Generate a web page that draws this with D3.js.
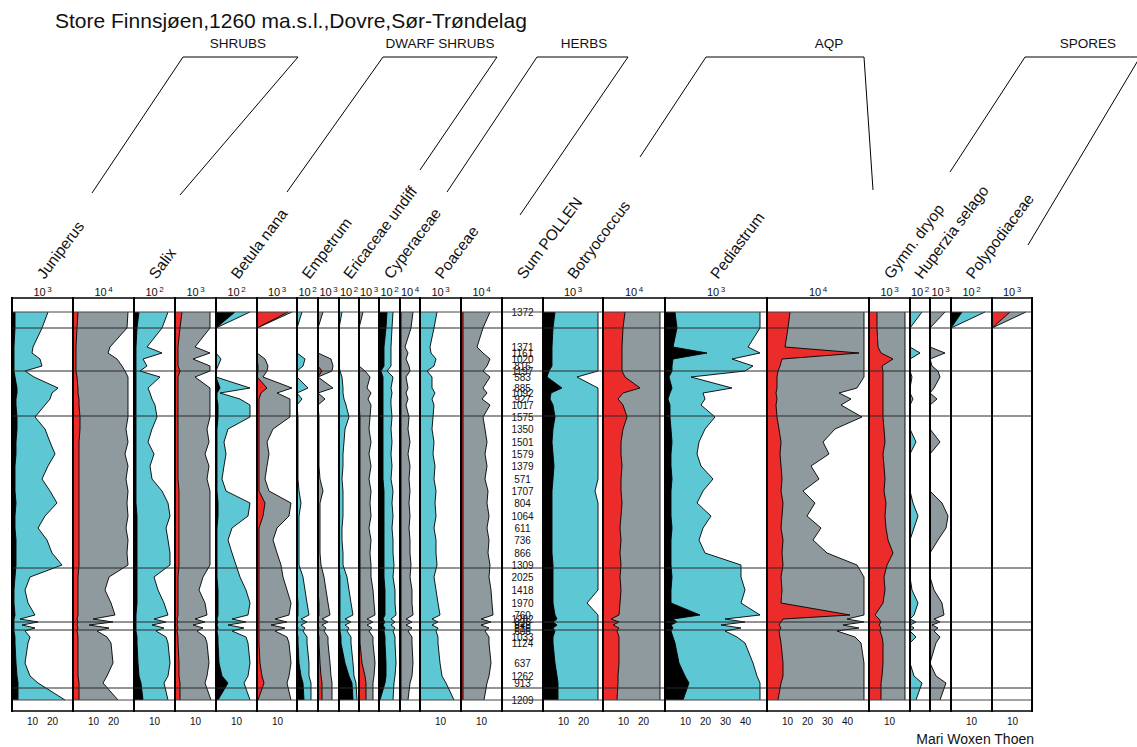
<!DOCTYPE html>
<html>
<head>
<meta charset="utf-8">
<script src="https://cdn.jsdelivr.net/npm/d3@7"></script>
<style>
  body { margin: 0; background: #fff; }
  svg { display: block; }
  text { font-family: "Liberation Sans", Arial, Helvetica, sans-serif; fill: #111; }
</style>
</head>
<body>
<svg id="chart" width="1137" height="747"></svg>
<script>
// ---- sample depths (cm) and pollen sums ----
const depths = [100,108,117.5,120.5,123.5, 127,129.5,132.5,138,140.5, 143.5,146.5,152.5,158.5,165,
  171,177,183.5,189.5,195.5, 202,208,214,220.5,226.5, 232.5,239,245.5,251.5,253.5,
  255,256.5,258,259.5,262.5, 265.5,275.5,282,285.5,294];
const sumPollen = [1372,null,1371,1161,1020, 816,1197,583,885,1092, 927,1017,1575,1350,1501,
  1579,1379,571,1707,804, 1064,611,736,866,1309, 2025,1418,1970,760,1282,
  896,848,816,606,1033, 1124,637,1262,913,1209];
const zoneDepths = [108,129.5,152,228,255,259,288];

// ---- taxa, groups and scale exponents ----
const taxa = ["Juniperus","Salix","Betula nana","Empetrum","Ericaceae undiff","Cyperaceae","Poaceae",
  "Sum POLLEN","Botryococcus","Pediastrum","Gymn. dryop","Huperzia selago","Polypodiaceae"];
const groupNames = ["SHRUBS","DWARF SHRUBS","HERBS","AQP","SPORES"];
const scaleExponents = [3,4, 2,3, 2,3, 2,3, 2,3, 2,4, 3,4, null, 3,4, 3,4, 3, 2,3, 2,3];

// ---- curves: dark = lower curve, light = exaggerated curve ----
const junA_dark  = [1.5,1.5,1,1,1, 1,1,1.5,2.5,2.5, 2,2,2.5,2.5,2, 2,1.5,1.5,1.5,2, 1.5,1.5,2,2,2, 1.5,1,1,1.5,1, 1,1,1,1,1.5, 1.5,2,2.5,3,3];
const junA_light = [18,15,10.5,10,14, 15,6.5,11,23,20, 19,16.5,11.5,16.5,19, 21.5,18,15,19,22.5, 16.5,13,17.5,20,25, 9,6.5,8,11.5,4, 13,5,11.5,6.5,9, 8,6.5,9,13,26.5];
const junB_dark  = [2.5,2,1.5,1.5,1.5, 1.5,1.5,2,2.5,2.5, 3,3,3.5,3.5,3, 3,3,3,3,3, 3,3,3,3,3, 2.5,2.5,2.5,2.5,2, 2.5,2,2.5,2,2.5, 2.5,2.5,2.5,3,3];
const junB_light = [27.5,27,18.5,17.5,22, 24.5,26,27.5,27.5,27.5, 27.5,27.5,27.5,26.5,27.5, 26,27.5,26.5,27.5,27, 27.5,26.5,27.5,27,27.5, 18,16,19,21,10, 20,8,18,12,17, 19,20,17,15,22.5];
const salA_dark  = [2.5,1.5,1,1,1, 1,1,1,1,1, 1,1,1,1,1, 1,1,1,1,1, 1.5,1.5,1.5,1.5,1.5, 1.5,1.5,1.5,1,1, 1,1,1,1,1.5, 1.5,2,2.5,3.5,4.5];
const salA_light = [17,14,6.5,14,4.5, 6.5,3,13,7,8, 9,10.5,11.5,9,7, 10,8,9,14,17, 18,16,17,18,18, 10,12,15,17,10, 16,9,15,11,16, 17,18,17,15,17];
const salB_dark  = [3.5,2.5,1.5,1.5,1.5, 1.5,2.5,1.5,1.5,1.5, 1.5,1.5,1.5,1.5,1.5, 1.5,1.5,1.5,2,2, 2,2,2,2,2, 1.5,1.5,1.5,1.5,1, 1.5,1,1.5,1,1.5, 1.5,2,2,2.5,2.5];
const salB_light = [17.5,17.5,10,17.5,9, 17.5,17.5,10,17.5,17.5, 17.5,17.5,17.5,16,17, 15,17,16,17.5,17.5, 17.5,17.5,17.5,17.5,17.5, 14,12,15,16,10, 15,9,14,11,15, 16,17,16,15,18];
const betA_dark  = [9.5,0,0,0,0, 0,0,0,2,0.5, 0.5,1,1,0.5,0.5, 0.5,0.5,0.5,0.5,1, 1,0.5,0.5,0.5,0.5, 0.5,1,1,1,0.5, 1,0.5,1,0.5,1, 1,1.5,3,6,1];
const betA_light = [17,0,0,0,2.5, 1,0,0,17,2, 12,17,17,6,4, 5,4,3,5,17, 16,8,6,8,10, 12,15,17,16,8, 15,6,14,8,15, 16,17,16,14,17];
const betB_dark  = [15.5,0,0,0,0, 0.5,0.5,0,5,2, 1,1,1,1,1, 1,1,1,1,4, 3,1,1,1,1, 1,1,1,1,1, 1,1,1,1,1, 1,1.5,2.5,3.5,0.5];
const betB_light = [17.5,0,0,0,4, 5.5,5,3,17.5,10, 16.5,16.5,16.5,8,5, 6,5,4,6,17, 16,10,8,10,12, 13,15,17,16,9, 15,7,14,9,15, 16,17,16,15,17];
const empA_dark  = [0,0,0,0,0, 0,0,0,0,0, 0,0,0,0,0, 0,0,0,0,0, 0,0,0,0,0, 0,0,0.5,0.5,0, 0.5,0,0.5,0,0.5, 0.5,1,2,3,3.5];
const empA_light = [2.5,0,0,0,4, 3,0,0,5.5,0, 2.5,0,0.5,0.5,0.5, 0.5,0.5,0.5,1,2, 1,1,1,1,1, 3,4,5,6,2, 5,2,4,3,5, 5,6,6,7,7];
const empB_dark  = [0,0,0,0,0, 0,2,0,0,0, 0,0,0,0,0, 0,0,0,0,0, 0,0,0,0,0, 0,0,0.5,0.5,0, 0.5,0,0.5,0,0.5, 0.5,1,1.5,2,2];
const empB_light = [2.5,0,0,0,6.5, 7.5,7,0,7.5,0, 3.5,0,0.5,0.5,0.5, 0.5,0.5,1,2.5,1, 1,1,1,1,1.5, 3,4,5,6,2, 5,2,4,3,5, 5,6,6.5,7,7];
const eriA_dark  = [0,0,0,0,0, 0,0,0,0,0, 0,0,0,0,0, 0,0,0,0,0, 0,0,0,0,0, 0.5,0.5,0.5,0.5,0.5, 0.5,0.5,0.5,0.5,1, 1,3,5,6.5,7];
const eriA_light = [1.5,0,0,0,0, 0,0.5,1.5,2,2, 2.5,3.5,5,3,2.5, 2,2,1.5,2,2, 2,1.5,1.5,2,2, 4,5,6,7,3, 6,3,5,4,6, 6,7,7.5,8.5,9];
const eriB_dark  = [0,0,0,0,0, 0,0,0,0,0, 0,0,0.5,0.5,0.5, 0.5,0.5,0.5,0.5,0.5, 0.5,0.5,0.5,0.5,0.5, 0.5,0.5,0.5,0.5,0.5, 0.5,0.5,0.5,0.5,0.5, 0.5,1.5,3,3.5,3.5];
const eriB_light = [2,0,0,0,0, 0,3,5.5,4,6, 4.5,6,5.5,5,6, 5,6,5,6,5.5, 6,5,6,5.5,6, 6,7,7.5,8,4, 7,4,6.5,5,7, 7,8,7.5,7,7];
const cypA_dark  = [4,3.5,2.5,2.5,2.5, 2.5,1,2,2,2, 2,2,2,2,2, 2,2,2,2.5,2.5, 2.5,2.5,2.5,2.5,2.5, 2.5,3,3,3,2, 3,2,3,2.5,3, 3,3.5,3.5,3,0.5];
const cypA_light = [7,6.5,6,6,6, 6,4,7,6,6.5, 6,6,6.5,6,6.5, 6,6.5,6,7,6.5, 7,6.5,7,7,7.5, 7,8,8,8.5,6, 8,6,8,7,8, 8,8.5,8,7.5,7];
const cypB_dark  = [0.5,0.5,0.5,0.5,0.5, 0.5,0.5,0.5,0.5,0.5, 0.5,0.5,0.5,0.5,0.5, 0.5,0.5,0.5,0.5,0.5, 0.5,0.5,0.5,0.5,0.5, 0.5,0.5,0.5,0.5,0.5, 0.5,0.5,0.5,0.5,0.5, 0.5,0.5,0.5,0.5,0.5];
const cypB_light = [6.5,5.5,2.5,4,3, 4.5,5,3,4,3, 4,3,4.5,4,5, 4,5,4.5,5,4.5, 5,4.5,5,5,5.5, 5,6,6,6.5,3, 6,3,6,4,6, 6,6.5,6,5,4];
const poaA_light = [8.5,7,5,5.5,8, 7,3.5,6,6,7.5, 6,7,6.5,6,7, 6.5,7.5,7,8,7.5, 8,7,8,8,8.5, 7,8,9,10,6, 9,6,9,8,9, 9,10,11,13,17];
const poaB_dark  = [1,1,1,1,1, 1,1,1,1,1, 1,1,1,1,1, 1,1,1,1,1, 1,1,1,1,1, 1,1,1,1,1, 1,1,1,1,1, 1,1,1,1,1];
const poaB_light = [14.5,11,8,11,14.5, 13,11,14.5,11,13, 10.5,14.5,11,12,13, 12,13,12,13.5,13, 14,13,14,13.5,14.5, 14,15,15.5,16,10, 15,10,14,12,14, 14,15,14,13,11.5];
const botA_dark  = [6,5,4.5,4.5,4.5, 4.5,3,2,9.5,4, 3.5,5,6,5,4.5, 5,5.5,5,4.5,4.5, 4.5,4.5,4.5,4.5,5, 5,5,5,6,7, 5,7,5,6,5, 5,6,7,7.5,7.5];
const botA_light = [27.5,27.5,27.5,27.5,27.5, 27.5,27.5,17,27.5,27.5, 27.5,27.5,27.5,27.5,27.5, 27.5,27.5,27.5,26,27.5, 27.5,27.5,27.5,27.5,27.5, 27.5,27.5,22,27.5,27.5, 27.5,27.5,27.5,27.5,27.5, 27.5,27.5,27.5,27.5,27.5];
const botB_dark  = [11,10,9.5,9.5,9.5, 9.5,9.5,11,18.5,10, 7.5,10,12,10,9, 9,9.5,9,9,9.5, 9,8.5,9,8.5,9, 8.5,9,8.5,8,4, 8,5,8,7,8, 8,8,7.5,7.5,7];
const botB_light = [28.5,28.5,28.5,28.5,28.5, 28.5,28.5,28.5,28.5,28.5, 28.5,28.5,28.5,28.5,28.5, 28.5,28.5,28.5,28.5,28.5, 28.5,28.5,28.5,28.5,28.5, 28.5,28.5,28.5,28.5,28.5, 28.5,28.5,28.5,28.5,28.5, 28.5,28.5,28.5,28.5,28.5];
const pedA_dark  = [5,6,4,21,4, 3.5,3.5,2,3.5,2.5, 1.5,2.5,2.5,3,3.5, 3,3,3.5,3,3, 3,3.5,3,3,3, 3.5,3,3,17.5,4, 6,3,4,3,4, 5,7,10,12,9];
const pedA_light = [47.5,47.5,41.5,47.5,33.5, 44,40,13,33.5,19, 20,18,25,20,17, 16,18,24,19,16, 23,19,17,20,38, 38,40,38,47.5,30, 40,28,38,30,36, 40,44,46,47.5,47.5];
const pedB_dark  = [11.5,10.5,9,46,7.5, 6.5,5.5,5,5,4.5, 5,4.5,5,6,7, 6.5,7,7.5,7,8, 7.5,7,8,7.5,8, 7,7.5,7,41.5,8, 7,6,7,6,6.5, 7,8,8,7,5.5];
const pedB_light = [48.5,48.5,48.5,48.5,48.5, 48.5,48.5,48.5,45,36, 42,37,47.5,34,28, 31,22,26,18,24, 20,27,23,30,45, 48.5,48.5,48.5,48.5,40, 48.5,38,46,35,44, 47,48.5,48.5,48.5,48.5];
const gymA_dark  = [4,4,4.5,6,12, 6.5,7,7,7,7, 7,7,7,7.5,8, 7,7.5,8,7.5,8.5, 8,8.5,9.5,12,9, 7.5,8,7,3,5, 6,5,6,5.5,6.5, 7,7,6.5,6,6];
const gymA_light = [18,18,18,18,18, 18,18,18,18,18, 18,18,18,18,18, 18,18,18,18,18, 18,18,18,18,18, 18,18,18,18,18, 18,18,18,18,18, 18,18,18,18,18];
const hupA_light = [6,0,0,5,0, 0,0,1,0,0, 1.5,0,0,0,3, 0,0,0,0,1.5, 4,2,0,0,0, 0,1,4,2,0, 3,0,2,0,3, 0,0,2,6,3];
const hupB_light = [7.5,0,0,7.5,0, 1,4,5,2,0, 3.5,0,0,0,5, 0,0,0,0,6, 9,8,4,0,0, 0,2,6,7,2, 5,1,4,2,5, 3,0,3,8,5];
const polA_dark  = [5.5,0,0,0,0, 0,0,0,0,0, 0,0,0,0,0, 0,0,0,0,0, 0,0,0,0,0, 0,0,0,0,0, 0,0,0,0,0, 0,0,0,0,0];
const polA_light = [17,0,0,0,0, 0,0,0,0,0, 0,0,0,0,0, 0,0,0,0,0, 0,0,0,0,0, 0,0,0,0,0, 0,0,0,0,0, 0,0,0,0,0];
const polB_dark  = [9,0,0,0,0, 0,0,0,0,0, 0,0,0,0,0, 0,0,0,0,0, 0,0,0,0,0, 0,0,0,0,0, 0,0,0,0,0, 0,0,0,0,0];
const polB_light = [17,0,0,0,0, 0,0,0,0,0, 0,0,0,0,0, 0,0,0,0,0, 0,0,0,0,0, 0,0,0,0,0, 0,0,0,0,0, 0,0,0,0,0];

// ---- panel table (built from the arrays above) ----
const panels = [
  {dark: junA_dark, light: junA_light, tone: "bc"},
  {dark: junB_dark, light: junB_light, tone: "rg"},
  {dark: salA_dark, light: salA_light, tone: "bc"},
  {dark: salB_dark, light: salB_light, tone: "rg"},
  {dark: betA_dark, light: betA_light, tone: "bc"},
  {dark: betB_dark, light: betB_light, tone: "rg"},
  {dark: empA_dark, light: empA_light, tone: "bc"},
  {dark: empB_dark, light: empB_light, tone: "rg"},
  {dark: eriA_dark, light: eriA_light, tone: "bc"},
  {dark: eriB_dark, light: eriB_light, tone: "rg"},
  {dark: cypA_dark, light: cypA_light, tone: "bc"},
  {dark: cypB_dark, light: cypB_light, tone: "rg"},
  {dark: null,      light: poaA_light, tone: "bc"},
  {dark: poaB_dark, light: poaB_light, tone: "rg"},
  {sum: true},
  {dark: botA_dark, light: botA_light, tone: "bc"},
  {dark: botB_dark, light: botB_light, tone: "rg"},
  {dark: pedA_dark, light: pedA_light, tone: "bc"},
  {dark: pedB_dark, light: pedB_light, tone: "rg"},
  {dark: gymA_dark, light: gymA_light, tone: "rg"},
  {dark: null,      light: hupA_light, tone: "bc"},
  {dark: null,      light: hupB_light, tone: "rg"},
  {dark: polA_dark, light: polA_light, tone: "bc"},
  {dark: polB_dark, light: polB_light, tone: "rg"}
];

// ---- layout ----
const panelEdges = [12,73,134,175,216,257,297,318,339,359,379,400,420,461,502,543,603,665,767,869,910,930,951,992,1032];
const taxonFirstPanel = [0,2,4,6,8,10,12,14,15,17,19,20,22];
const groupLayout = [
  {tx: 238,  line: [[92,193],[183,57],[298,57],[180,195]]},
  {tx: 440,  line: [[287,192],[383,57],[497,57],[420,170]]},
  {tx: 584,  line: [[447,192],[537,57],[628,57],[520,215]]},
  {tx: 829,  line: [[640,157],[706,57],[864,57],[873,190]]},
  {tx: 1088, line: [[950,172],[1025,57],[1143,57]]}
];
const extraLeader = [[1143,52],[1028,245]];
const tones = {
  bc: {dark: "#000000", light: "#5ec7d4"},
  rg: {dark: "#ec2b2b", light: "#8e9a9d"}
};
const yTop = 312, yBot = 700, frameTop = 298, frameBot = 711;
const xLeft = panelEdges[0], xRight = panelEdges[panelEdges.length - 1];

const svg = d3.select("#chart");
const y = d3.scaleLinear().domain([d3.min(depths), d3.max(depths)]).range([yTop, yBot]);

// title
svg.append("text").attr("x", 55).attr("y", 28).attr("font-size", 21)
  .text("Store Finnsjøen,1260 ma.s.l.,Dovre,Sør-Trøndelag");

// curves
const gData = svg.append("g");
panels.forEach((p, i) => {
  const x0 = panelEdges[i], x1 = panelEdges[i + 1];
  if (p.sum) {
    gData.selectAll(null).data(depths.map((d, j) => ({d, s: sumPollen[j]})).filter(r => r.s !== null))
      .join("text")
      .attr("x", (x0 + x1) / 2).attr("y", r => y(r.d) + 3.6)
      .attr("text-anchor", "middle").attr("font-size", 10)
      .text(r => r.s);
    return;
  }
  const xs = d3.scaleLinear().domain([0, (x1 - x0) / 2]).range([x0, x1]);
  const rows = depths.map((d, j) => ({d, light: p.light[j], dark: p.dark ? p.dark[j] : 0}));
  const area = key => d3.area().x0(x0).x1(r => xs(r[key])).y(r => y(r.d));
  const edge = key => d3.line().x(r => xs(r[key])).y(r => y(r.d));
  const c = tones[p.tone];
  gData.append("path").attr("d", area("light")(rows)).attr("fill", c.light);
  gData.append("path").attr("d", edge("light")(rows)).attr("fill", "none")
    .attr("stroke", "#000").attr("stroke-width", 0.9);
  if (p.dark) {
    gData.append("path").attr("d", area("dark")(rows)).attr("fill", c.dark);
    gData.append("path").attr("d", edge("dark")(rows)).attr("fill", "none")
      .attr("stroke", "#000").attr("stroke-width", 0.9);
  }
  // bottom scale
  const maxV = (x1 - x0) / 2;
  const tv = d3.range(10, maxV - 3, 10);
  const axis = d3.axisBottom(xs).tickValues(tv).tickSize(0).tickPadding(7).tickFormat(d3.format("d"));
  const ga = svg.append("g").attr("transform", `translate(0,${frameBot})`).call(axis);
  ga.select(".domain").remove();
  ga.selectAll("text").attr("font-size", 10).attr("font-family", null).style("fill", "#111");
  // exponent label on top
  const e = scaleExponents[i];
  const t = svg.append("text").attr("x", (x0 + x1) / 2).attr("y", 296)
    .attr("text-anchor", "middle").attr("font-size", 11);
  t.append("tspan").text("10");
  t.append("tspan").attr("dx", 1.5).attr("dy", -4).attr("font-size", 8).text(e);
});

// zone lines
svg.append("g").selectAll("line").data(zoneDepths).join("line")
  .attr("x1", xLeft).attr("x2", xRight)
  .attr("y1", d => y(d)).attr("y2", d => y(d))
  .attr("stroke", "#2a2a2a").attr("stroke-width", 1);

// frame
const frame = svg.append("g");
[[frameTop, 1.6, "#000"], [yTop, 1, "#444"], [yBot, 1, "#444"], [frameBot, 1.6, "#000"]].forEach(([yy, w, col]) => {
  frame.append("line").attr("x1", xLeft).attr("x2", xRight).attr("y1", yy).attr("y2", yy)
    .attr("stroke", col).attr("stroke-width", w);
});
frame.selectAll("line.v").data(panelEdges).join("line").attr("class", "v")
  .attr("x1", d => d).attr("x2", d => d).attr("y1", frameTop - 1).attr("y2", frameBot + 1)
  .attr("stroke", "#000").attr("stroke-width", 2);

// taxon labels
taxa.forEach((name, k) => {
  const i = taxonFirstPanel[k];
  const cx = (panelEdges[i] + panelEdges[i + 1]) / 2 + 2;
  svg.append("text").attr("transform", `translate(${cx},280) rotate(-53)`)
    .attr("font-size", 15.5).text(name);
});

// group headers and leader lines
groupNames.forEach((name, k) => {
  const L = groupLayout[k];
  svg.append("text").attr("x", L.tx).attr("y", 48).attr("text-anchor", "middle")
    .attr("font-size", 13.5).text(name);
  svg.append("path").attr("d", d3.line()(L.line)).attr("fill", "none")
    .attr("stroke", "#000").attr("stroke-width", 1);
});
svg.append("path").attr("d", d3.line()(extraLeader)).attr("fill", "none")
  .attr("stroke", "#000").attr("stroke-width", 1);

// author
svg.append("text").attr("x", 1034).attr("y", 744).attr("text-anchor", "end")
  .attr("font-size", 14).text("Mari Woxen Thoen");
</script>
</body>
</html>
